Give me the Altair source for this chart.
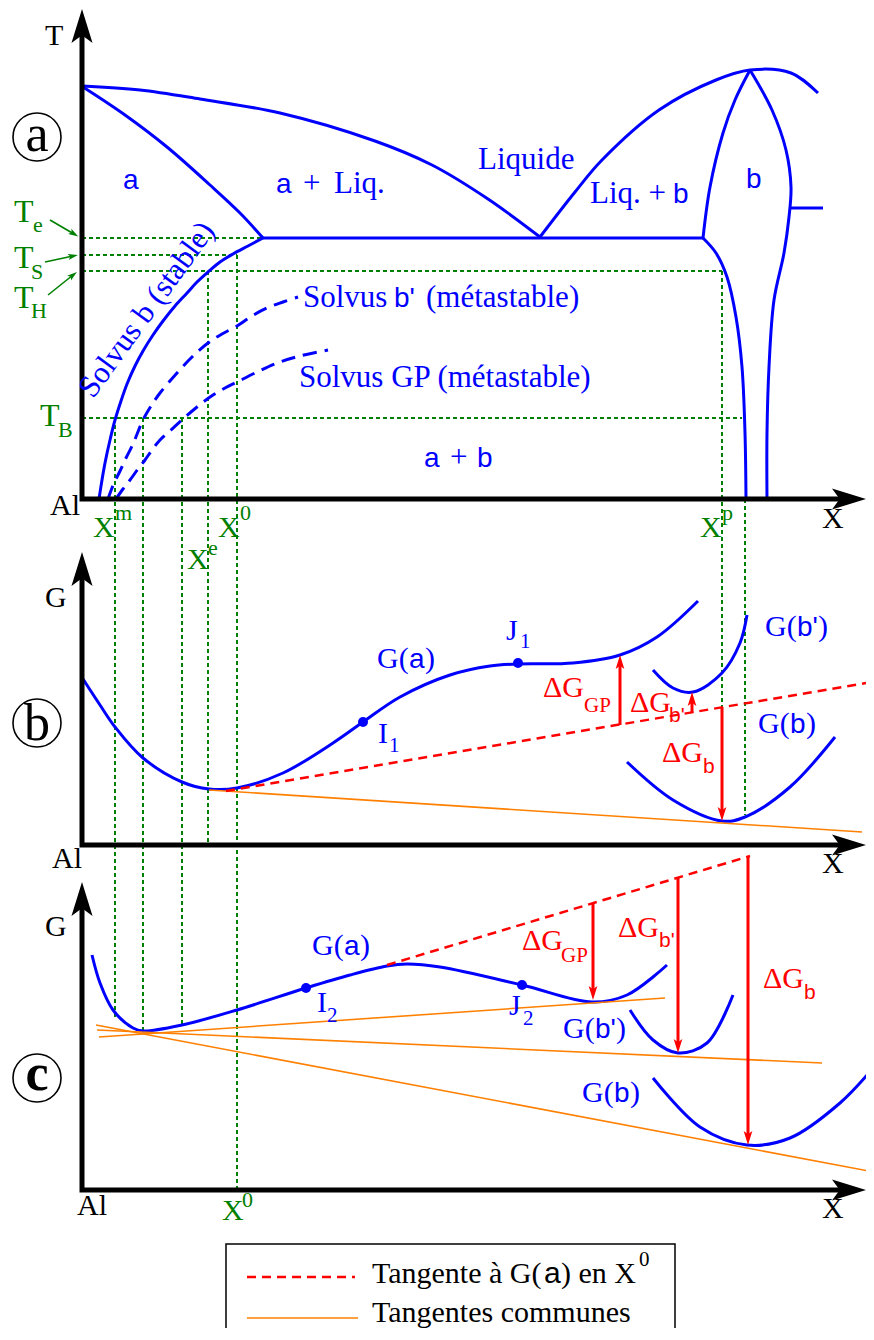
import altair as alt
import pandas as pd

SERIF = "Liberation Serif"
SANS = "Liberation Sans"
BLUE = "#0000ff"
GREEN = "#008000"
RED = "#ff0000"
ORANGE = "#ff8000"
BLACK = "#000000"

# ---------------- data: curves (reference picture coordinates) ----------------
axes_lines = {
    "ax_a": [(82, 30), (82, 499), (845, 499)],
    "ax_b": [(82, 575), (82, 845), (845, 845)],
    "ax_c": [(82, 905), (82, 1190), (845, 1190)],
}

# panel a: phase diagram (solid blue, smooth)
liquidus_left = [(82, 86), (140, 90), (200, 99), (280, 113), (375, 141), (432, 165), (488, 199), (540, 237)]
solidus_alpha = [(83, 87), (125, 115), (167, 147), (210, 185), (240, 213), (263, 238)]
liquidus_right = [(540, 237), (575, 192), (602, 160), (659, 110), (716, 80), (750, 70), (791, 73), (818, 93)]
beta_left = [(703, 238), (710, 187), (723, 133), (735, 100), (750, 70)]
beta_right = [(750, 70), (772, 110), (786, 150), (791, 187), (789, 217), (784, 253), (774, 300), (769, 367), (767, 433), (767, 499)]
beta_solvus = [(703, 238), (716, 253), (727, 277), (736, 317), (742, 367), (745, 433), (746, 499)]
solvus_b = [(99, 499), (102, 480), (105, 463), (110, 440), (115, 420), (121, 401), (127, 384), (135, 366),
            (143, 351), (153, 335), (163, 321), (175, 306), (187, 293), (197, 282), (208, 272), (220, 262),
            (233, 254), (248, 246), (263, 238)]
# straight blue
eutectic = [(263, 238), (703, 238)]
beta_tick = [(791, 208), (823, 208)]

# dashed blue solvus
solvus_bp = [(108, 499), (112, 488), (116, 479), (120, 471), (126, 458), (133, 444), (143, 420), (151, 406),
             (160, 393), (177, 373), (192, 357), (208, 343), (222, 334), (237, 326), (252, 316), (267, 308),
             (283, 302), (298, 297)]
solvus_gp = [(116, 499), (123, 489), (130, 480), (138, 469), (145, 460), (152, 450), (160, 440), (171, 430),
             (182, 420), (197, 407), (213, 395), (225, 388), (237, 382), (257, 372), (277, 363), (300, 356), (328, 350)]

# panel b: free energy curves
Ga_b = [(83, 679), (100, 705), (115, 727), (143, 758), (182, 782), (209, 789), (237, 788), (283, 773), (333, 743),
        (363, 722), (400, 697), (450, 675), (490, 666), (518, 664), (573, 663), (620, 655), (657, 637), (698, 601)]
Gbp_b = [(653, 670), (673, 688), (693, 692), (722, 673), (740, 643), (747, 615)]
Gb_b = [(627, 762), (673, 800), (722, 821), (745, 817), (790, 787), (835, 737)]

# panel c: free energy curves
Ga_c = [(92, 955), (100, 983), (113, 1010), (133, 1028), (143, 1031), (182, 1025), (237, 1010), (306, 988),
        (350, 975), (387, 966), (407, 964), (440, 967), (522, 985), (592, 1002), (627, 995), (667, 965)]
Gbp_c = [(630, 1010), (653, 1040), (678, 1053), (707, 1043), (733, 995)]
Gb_c = [(653, 1078), (700, 1127), (747, 1145), (790, 1138), (840, 1103), (874, 1067)]

# green dotted construction lines
green_h = {
    "Te": [(82, 238), (263, 238)],
    "TS": [(82, 255), (237, 255)],
    "TH": [(82, 271), (722, 271)],
    "TB": [(82, 418), (742, 418)],
}
green_v = {
    "v115": [(115, 418), (115, 1017)],
    "v143": [(143, 418), (143, 1031)],
    "v182": [(182, 418), (182, 1025)],
    "v208": [(208, 271), (208, 843)],
    "v237": [(237, 255), (237, 1188)],
    "v722": [(722, 271), (722, 707)],
    "v745": [(745, 499), (745, 815)],
}
green_arrows = {
    "aTe": [(50, 220), (74, 234)],
    "aTS": [(45, 262), (73, 256)],
    "aTH": [(48, 295), (73, 275)],
}

# tangents
red_dashed = {
    "tan_b": [(226, 791), (866, 683)],
    "tan_c": [(387, 965), (750, 856)],
    "leg": [(247, 1277), (355, 1277)],
}
orange_lines = {
    "ob": [(209, 790), (862, 832)],
    "oc1": [(99, 1037), (665, 998)],
    "oc2": [(97, 1030), (822, 1063)],
    "oc3": [(96, 1025), (874, 1172)],
    "leg": [(247, 1318), (358, 1318)],
}
# red arrows: shafts
red_shafts = {
    "gp_b": [(620, 725), (620, 662)],
    "bp_b": [(692, 713), (692, 699)],
    "bb_b": [(722, 707), (722, 812)],
    "gp_c": [(593, 903), (593, 991)],
    "bp_c": [(678, 878), (678, 1044)],
    "bb_c": [(748, 856), (748, 1136)],
}
# arrow heads: x, y (centre), heading angle
black_heads = [(82, 26, 0), (82, 569, 0), (82, 899, 0), (849, 499, 90), (849, 845, 90), (849, 1190, 90)]
red_heads = [(620, 662, 0), (692, 699, 0), (722, 814, 180), (593, 993, 180), (678, 1046, 180), (748, 1138, 180)]
green_heads = [(74, 234, 121), (73, 256, 78), (73, 275, 52)]

dots = [(363, 722), (518, 663), (306, 988), (522, 985)]
circles = [(37, 137), (37, 723), (37, 1078)]

# ---------------- text ----------------
serif_texts = [
    # axes (black)
    ("T", 45, 45, 30, BLACK), ("Al", 50, 515, 30, BLACK), ("X", 822, 528, 30, BLACK),
    ("G", 45, 607, 30, BLACK), ("Al", 52, 868, 30, BLACK), ("X", 822, 873, 30, BLACK),
    ("G", 45, 936, 30, BLACK), ("Al", 77, 1215, 30, BLACK), ("X", 822, 1218, 30, BLACK),
    # legend
    ("Tangente à G(", 372, 1283, 30, BLACK), (") en X", 561, 1283, 30, BLACK), ("0", 639, 1266, 21, BLACK),
    ("Tangentes communes", 372, 1322, 30, BLACK),
    # green temperature / composition labels
    ("T", 14, 222, 32, GREEN), ("e", 33, 232, 22, GREEN),
    ("T", 14, 268, 32, GREEN), ("S", 31, 279, 22, GREEN),
    ("T", 14, 308, 32, GREEN), ("H", 31, 318, 22, GREEN),
    ("T", 40, 426, 32, GREEN), ("B", 58, 437, 22, GREEN),
    ("X", 93, 537, 30, GREEN), ("m", 115, 520, 22, GREEN),
    ("X", 218, 537, 30, GREEN), ("0", 240, 520, 22, GREEN),
    ("X", 187, 569, 30, GREEN), ("e", 208, 555, 22, GREEN),
    ("X", 700, 537, 30, GREEN), ("p", 722, 520, 22, GREEN),
    ("X", 222, 1220, 30, GREEN), ("0", 242, 1207, 22, GREEN),
    # blue phase labels
    ("+", 303, 193, 31, BLUE), ("Liq.", 334, 193, 31, BLUE),
    ("Liquide", 478, 169, 31, BLUE), ("Liq. +", 590, 203, 31, BLUE),
    ("Solvus", 303, 307, 31, BLUE), ("(métastable)", 426, 307, 31, BLUE),
    ("Solvus GP (métastable)", 299, 387, 31, BLUE), ("+", 450, 467, 31, BLUE),
    # panel b
    ("G(", 377, 668, 30, BLUE), (")", 425, 668, 30, BLUE),
    ("I", 378, 743, 30, BLUE), ("1", 389, 752, 21, BLUE),
    ("J", 506, 640, 30, BLUE), ("1", 520, 648, 21, BLUE),
    ("G(", 765, 636, 30, BLUE), (")", 818, 636, 30, BLUE),
    ("G(", 758, 733, 30, BLUE), (")", 806, 733, 30, BLUE),
    # panel c
    ("G(", 312, 955, 30, BLUE), (")", 360, 955, 30, BLUE),
    ("I", 317, 1012, 30, BLUE), ("2", 327, 1022, 21, BLUE),
    ("J", 509, 1015, 30, BLUE), ("2", 523, 1025, 21, BLUE),
    ("G(", 563, 1038, 30, BLUE), (")", 616, 1038, 30, BLUE),
    ("G(", 582, 1102, 30, BLUE), (")", 630, 1102, 30, BLUE),
    # red deltas
    ("ΔG", 543, 697, 30, RED), ("GP", 584, 712, 21, RED),
    ("ΔG", 630, 712, 30, RED),
    ("ΔG", 662, 762, 30, RED),
    ("ΔG", 522, 950, 30, RED), ("GP", 561, 962, 21, RED),
    ("ΔG", 618, 937, 30, RED),
    ("ΔG", 763, 988, 30, RED),
]
sans_texts = [
    ("a", 123, 189, 28, BLUE), ("a", 276, 193, 28, BLUE), ("b", 673, 203, 28, BLUE), ("b", 746, 188, 28, BLUE),
    ("b'", 394, 307, 28, BLUE), ("a", 424, 467, 28, BLUE), ("b", 477, 467, 28, BLUE),
    ("a", 409, 668, 28, BLUE), ("b'", 797, 636, 28, BLUE), ("b", 790, 733, 28, BLUE),
    ("a", 344, 955, 28, BLUE), ("b'", 595, 1038, 28, BLUE), ("b", 614, 1102, 28, BLUE),
    ("b'", 669, 722, 21, RED), ("b", 703, 773, 21, RED), ("b'", 659, 947, 21, RED), ("b", 804, 999, 21, RED),
    ("a", 544, 1283, 30, BLACK),
]
rotated_texts = [("Solvus b (stable)", 147, 310, 31, BLUE, 306)]
circled_letters = [("a", 37, 151, 52), ("b", 37, 740, 52)]
circled_bold = [("c", 37, 1090, 52)]

# ---------------- build ----------------
XS = alt.Scale(domain=[8, 866], nice=False, zero=False)
YS = alt.Scale(domain=[8, 1328], nice=False, zero=False, reverse=True)


def enc_xy(**extra):
    return dict(x=alt.X("x:Q", scale=XS, axis=None), y=alt.Y("y:Q", scale=YS, axis=None), **extra)


def lines_df(curves):
    rows = []
    for cid, pts in curves.items():
        for i, (x, y) in enumerate(pts):
            rows.append({"id": cid, "i": i, "x": x, "y": y})
    return pd.DataFrame(rows)


def line_layer(curves, color, width, dash=None, interp="linear"):
    kw = dict(color=color, strokeWidth=width, interpolate=interp, strokeCap="butt", strokeJoin="miter", clip=False)
    if dash:
        kw["strokeDash"] = dash
    return alt.Chart(lines_df(curves)).mark_line(**kw).encode(
        **enc_xy(detail="id:N", order="i:Q"))


def text_layer(items, font, align="left", baseline="alphabetic", weight="normal"):
    df = pd.DataFrame(items, columns=["t", "x", "y", "s", "c"])
    return alt.Chart(df).mark_text(font=font, align=align, baseline=baseline, fontWeight=weight).encode(
        **enc_xy(text="t:N", size=alt.Size("s:Q", scale=None, legend=None),
                 color=alt.Color("c:N", scale=None, legend=None)))


ARROW = "M0,-1L0.62,1L0,0.55L-0.62,1Z"


def head_layer(items, color, half):
    df = pd.DataFrame(items, columns=["x", "y", "a"])
    return alt.Chart(df).mark_point(shape=ARROW, filled=True, color=color, opacity=1,
                                    size=(2 * half) ** 2, strokeWidth=0).encode(
        **enc_xy(angle=alt.Angle("a:Q", scale=None)))


layers = []
layers.append(line_layer(green_h, GREEN, 2, dash=[4, 3]))
layers.append(line_layer(green_v, GREEN, 2, dash=[4, 3]))
layers.append(line_layer(green_arrows, GREEN, 1.6))
layers.append(line_layer({"eut": eutectic, "tick": beta_tick}, BLUE, 3))
layers.append(line_layer({
    "ll": liquidus_left, "sa": solidus_alpha, "lr": liquidus_right, "bl": beta_left, "br": beta_right,
    "bs": beta_solvus, "sb": solvus_b,
    "gab": Ga_b, "gbpb": Gbp_b, "gbb": Gb_b, "gac": Ga_c, "gbpc": Gbp_c, "gbc": Gb_c,
}, BLUE, 3, interp="catmull-rom"))
layers.append(line_layer({"sbp": solvus_bp, "sgp": solvus_gp}, BLUE, 3, dash=[14, 8], interp="catmull-rom"))
layers.append(line_layer(orange_lines, ORANGE, 1.6))
layers.append(line_layer(red_dashed, RED, 2.5, dash=[9, 6]))
layers.append(line_layer(red_shafts, RED, 3))
layers.append(line_layer(axes_lines, BLACK, 5))
layers.append(head_layer(black_heads, BLACK, 17))
layers.append(head_layer(red_heads, RED, 7))
layers.append(head_layer(green_heads, GREEN, 5))

dots_df = pd.DataFrame(dots, columns=["x", "y"])
layers.append(alt.Chart(dots_df).mark_point(shape="circle", filled=True, color=BLUE, opacity=1, size=100).encode(**enc_xy()))
circ_df = pd.DataFrame(circles, columns=["x", "y"])
layers.append(alt.Chart(circ_df).mark_point(shape="circle", filled=False, color=BLACK, opacity=1,
                                            size=48 ** 2, strokeWidth=1.6).encode(**enc_xy()))

legend_box = pd.DataFrame([{"x": 226, "x2": 675, "y": 1244, "y2": 1345}])
layers.append(alt.Chart(legend_box).mark_rect(filled=False, stroke=BLACK, strokeWidth=1.5, clip=False).encode(
    x=alt.X("x:Q", scale=XS, axis=None), x2="x2:Q", y=alt.Y("y:Q", scale=YS, axis=None), y2="y2:Q"))

layers.append(text_layer(serif_texts, SERIF))
layers.append(text_layer(sans_texts, SANS))
layers.append(text_layer([(t, x, y, s, BLACK) for t, x, y, s in circled_letters], SERIF, align="center"))
layers.append(text_layer([(t, x, y, s, BLACK) for t, x, y, s in circled_bold], SERIF, align="center", weight="bold"))

rot_df = pd.DataFrame(rotated_texts, columns=["t", "x", "y", "s", "c", "a"])
layers.append(alt.Chart(rot_df).mark_text(font=SERIF, align="center", baseline="middle").encode(
    **enc_xy(text="t:N", size=alt.Size("s:Q", scale=None, legend=None),
             color=alt.Color("c:N", scale=None, legend=None), angle=alt.Angle("a:Q", scale=None))))

chart = alt.layer(*layers).properties(
    width=858, height=1320,
    autosize=alt.AutoSizeParams(type="none"),
    padding={"left": 0, "top": 0, "right": 0, "bottom": 0},
).configure_view(stroke=None)

chart.save("out.html", embed_options={"renderer": "svg", "actions": False})
